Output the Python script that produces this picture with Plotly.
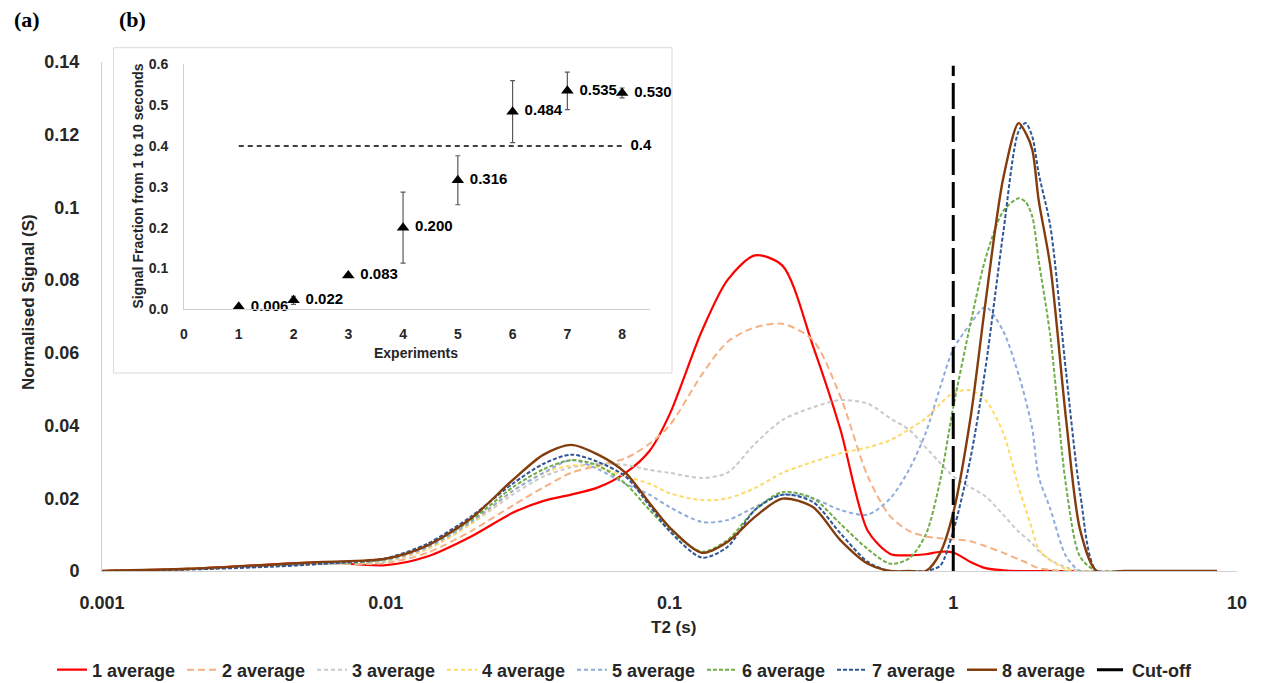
import plotly.graph_objects as go

# ---------------- main chart data ----------------
T2 = [0.001, 0.002, 0.004, 0.006, 0.01, 0.014, 0.02, 0.028, 0.036, 0.045, 0.056, 0.07,
      0.085, 0.1, 0.13, 0.16, 0.2, 0.25, 0.32, 0.4, 0.5, 0.6, 0.7, 0.8, 0.9, 1.0, 1.15,
      1.3, 1.5, 1.7, 1.8, 1.9, 2.0, 2.2, 2.5, 2.8, 3.2, 4.0, 8.5]

avg1 = [0, 0.0006, 0.0018, 0.0024, 0.0016, 0.004, 0.0095, 0.016, 0.0193, 0.021, 0.023, 0.027,
        0.033, 0.043, 0.066, 0.080, 0.0868, 0.084, 0.062, 0.039, 0.011, 0.0047, 0.0043, 0.0046,
        0.0053, 0.0051, 0.0025, 0.0008, 0.0002, 0, 0, 0, 0, 0, 0, 0, 0, 0, 0]
avg2 = [0, 0.0005, 0.0015, 0.002, 0.0022, 0.005, 0.011, 0.018, 0.023, 0.027, 0.029, 0.031,
        0.035, 0.040, 0.054, 0.063, 0.067, 0.068, 0.0635, 0.048, 0.026, 0.015, 0.011, 0.0095,
        0.009, 0.0087, 0.0082, 0.0068, 0.005, 0.0032, 0.0024, 0.0015, 0.0008, 0.0003, 0,
        0, 0, 0, 0]
avg3 = [0, 0.0005, 0.0015, 0.002, 0.0025, 0.006, 0.013, 0.021, 0.026, 0.0285, 0.0295, 0.0292,
        0.0278, 0.027, 0.0256, 0.027, 0.035, 0.0415, 0.045, 0.047, 0.046, 0.042, 0.0388, 0.034,
        0.0297, 0.026, 0.023, 0.0205, 0.0155, 0.0108, 0.0092, 0.0075, 0.0055, 0.003, 0.001,
        0, 0, 0, 0]
avg4 = [0, 0.0005, 0.0015, 0.002, 0.0028, 0.006, 0.013, 0.022, 0.027, 0.029, 0.0285, 0.026,
        0.024, 0.0214, 0.0195, 0.020, 0.0228, 0.027, 0.030, 0.0324, 0.034, 0.036, 0.039, 0.042,
        0.046, 0.049, 0.0497, 0.047, 0.038, 0.023, 0.017, 0.0113, 0.006, 0.003, 0.0005,
        0, 0, 0, 0]
avg5 = [0, 0.0005, 0.0015, 0.002, 0.003, 0.0065, 0.0135, 0.022, 0.027, 0.0305, 0.028, 0.024,
        0.021, 0.0176, 0.0135, 0.014, 0.0176, 0.021, 0.020, 0.0168, 0.0155, 0.020, 0.028, 0.038,
        0.0506, 0.061, 0.068, 0.0726, 0.066, 0.054, 0.047, 0.039, 0.026, 0.017, 0.004,
        0, 0, 0, 0]
avg6 = [0, 0.0005, 0.0015, 0.002, 0.0032, 0.007, 0.014, 0.023, 0.028, 0.0305, 0.029, 0.024,
        0.0168, 0.0113, 0.0053, 0.0085, 0.0168, 0.0217, 0.020, 0.013, 0.006, 0.002, 0.0035, 0.010,
        0.025, 0.045, 0.068, 0.086, 0.099, 0.1025, 0.1015, 0.0974, 0.0855, 0.0644, 0.0232,
        0.0039, 0, 0, 0]
avg7 = [0, 0.0004, 0.0012, 0.002, 0.0035, 0.0075, 0.015, 0.024, 0.0295, 0.032, 0.030, 0.026,
        0.018, 0.011, 0.0037, 0.0066, 0.0168, 0.021, 0.019, 0.0104, 0.0025, 0, 0, 0,
        0.0015, 0.011, 0.031, 0.056, 0.093, 0.121, 0.1232, 0.1194, 0.1094, 0.0947, 0.0544,
        0.0214, 0, 0, 0]
avg8 = [0, 0.0006, 0.0018, 0.0025, 0.0034, 0.007, 0.0145, 0.025, 0.032, 0.0347, 0.032, 0.027,
        0.0187, 0.012, 0.005, 0.008, 0.0149, 0.0199, 0.0176, 0.0085, 0.002, 0, 0, 0,
        0.005, 0.016, 0.042, 0.074, 0.108, 0.1232, 0.1205, 0.1158, 0.102, 0.0837, 0.0415,
        0.0113, 0, 0, 0]

series_names = ["1 average", "2 average", "3 average", "4 average",
                "5 average", "6 average", "7 average", "8 average"]
series_values = [avg1, avg2, avg3, avg4, avg5, avg6, avg7, avg8]
series_colors = ["#FF0000", "#F4B183", "#C9C9C9", "#FFD966",
                 "#8FAADC", "#70AD47", "#2F5597", "#843C0C"]
series_dash = ["solid", "7px,4px", "4px,3px", "4px,3px",
               "4px,3px", "4px,2px", "4px,2px", "solid"]
series_width = [2.2, 2, 2, 2, 2, 2, 2, 2.4]

cutoff_x = [1, 1]
cutoff_y = [0, 0.139]

x_tickvals = [0.001, 0.01, 0.1, 1, 10]
x_ticktext = ["0.001", "0.01", "0.1", "1", "10"]
y_tickvals = [0, 0.02, 0.04, 0.06, 0.08, 0.1, 0.12, 0.14]
y_ticktext = ["0", "0.02", "0.04", "0.06", "0.08", "0.1", "0.12", "0.14"]

# ---------------- inset (b) data ----------------
experiments = [1, 2, 3, 4, 5, 6, 7, 8]
fraction = [0.006, 0.022, 0.083, 0.200, 0.316, 0.484, 0.535, 0.530]
fraction_err = [0.003, 0.01, 0.004, 0.087, 0.06, 0.076, 0.046, 0.012]
fraction_labels = ["0.006", "0.022", "0.083", "0.200", "0.316", "0.484", "0.535", "0.530"]
threshold_x = [1, 8]
threshold_y = [0.4, 0.4]
threshold_labels = ["", "0.4"]
inset_xticks = [0, 1, 2, 3, 4, 5, 6, 7, 8]
inset_yticks = [0, 0.1, 0.2, 0.3, 0.4, 0.5, 0.6]
inset_yticktext = ["0.0", "0.1", "0.2", "0.3", "0.4", "0.5", "0.6"]

FONT = "Liberation Sans, Arial, sans-serif"
TXT = "#262626"

fig = go.Figure()

for name, vals, col, dash, w in zip(series_names, series_values, series_colors,
                                     series_dash, series_width):
    fig.add_trace(go.Scatter(
        x=T2, y=vals, name=name, mode="lines",
        line=dict(color=col, dash=dash, width=w, shape="spline", smoothing=0.8),
        xaxis="x", yaxis="y"))

fig.add_trace(go.Scatter(
    x=cutoff_x, y=cutoff_y, name="Cut-off", mode="lines",
    line=dict(color="#000000", dash="26px,7px", width=3),
    xaxis="x", yaxis="y"))

# inset traces
fig.add_trace(go.Scatter(
    x=threshold_x, y=threshold_y, mode="lines+text",
    text=["", "\u00a0\u00a0" + threshold_labels[1]],
    textposition="middle right",
    textfont=dict(family=FONT, size=15, color="#000000", weight="bold"),
    line=dict(color="#000000", dash="5px,4px", width=1.6),
    showlegend=False, xaxis="x2", yaxis="y2", cliponaxis=False))

fig.add_trace(go.Scatter(
    x=experiments, y=fraction, mode="markers+text",
    text=["\u00a0" + t for t in fraction_labels],
    textposition="middle right",
    textfont=dict(family=FONT, size=15, color="#000000", weight="bold"),
    marker=dict(symbol="triangle-up", size=11, color="#000000"),
    error_y=dict(type="data", array=fraction_err, color="#595959", thickness=1.2, width=2.5),
    showlegend=False, xaxis="x2", yaxis="y2", cliponaxis=False))

W, H = 1264, 683
ML, MR, MT, MB = 102, 27, 62, 112
PW = W - ML - MR
PH = H - MT - MB


def px_x(p):
    return (p - ML) / PW


def px_y(p):
    return (H - MB - p) / PH


def note(text, x, y, size, angle=0, family=FONT, color=TXT):
    return dict(text=text, xref="paper", yref="paper", x=px_x(x), y=px_y(y),
                xanchor="center", yanchor="middle", textangle=angle, showarrow=False,
                font=dict(family=family, size=size, color=color, weight="bold"))


fig.update_layout(
    width=W, height=H,
    margin=dict(l=ML, r=MR, t=MT, b=MB, autoexpand=False),
    paper_bgcolor="white", plot_bgcolor="white",
    font=dict(family=FONT, color=TXT),
    xaxis=dict(type="log", range=[-3, 1], tickvals=x_tickvals, ticktext=x_ticktext,
               showgrid=False, zeroline=False, showline=True, linecolor="#D0D0D0",
               ticks="", ticklabelstandoff=15,
               tickfont=dict(family=FONT, size=18, color=TXT, weight="bold")),
    yaxis=dict(range=[0, 0.14], tickvals=y_tickvals, ticktext=y_ticktext,
               showgrid=False, zeroline=False, showline=True, linecolor="#D0D0D0",
               ticks="", ticklabelstandoff=18,
               tickfont=dict(family=FONT, size=18, color=TXT, weight="bold")),
    xaxis2=dict(domain=[px_x(184), px_x(649.5)], range=[0, 8.5], anchor="y2",
                tickvals=inset_xticks, showgrid=False, zeroline=False, showline=True,
                linecolor="#D0D0D0", ticks="", ticklabelstandoff=12,
                tickfont=dict(family=FONT, size=14, color=TXT, weight="bold")),
    yaxis2=dict(domain=[px_y(309.3), px_y(64.3)], range=[0, 0.6], anchor="x2",
                tickvals=inset_yticks, ticktext=inset_yticktext, showgrid=False,
                zeroline=False, showline=True, linecolor="#D0D0D0", ticks="",
                ticklabelstandoff=12,
                tickfont=dict(family=FONT, size=14, color=TXT, weight="bold")),
    legend=dict(orientation="h", xref="paper", yref="paper",
                x=px_x(52), xanchor="left", y=px_y(670), yanchor="middle",
                entrywidth=85, entrywidthmode="pixels", traceorder="normal",
                font=dict(family=FONT, size=18, color=TXT, weight="bold"),
                bgcolor="rgba(0,0,0,0)"),
    shapes=[dict(type="rect", xref="paper", yref="paper",
                 x0=px_x(113.6), x1=px_x(672), y0=px_y(373), y1=px_y(47.7),
                 fillcolor="white", line=dict(color="#D9D9D9", width=1), layer="below")],
    annotations=[
        note("Normalised Signal (S)", 28, 302, 17, angle=-90),
        note("T2 (s)", 673, 627, 17),
        note("Signal Fraction from 1 to 10 seconds", 137, 186.5, 14, angle=-90),
        note("Experiments", 416, 353, 14),
        note("(a)", 27, 20, 22, family="Liberation Serif, Times New Roman, serif", color="#000000"),
        note("(b)", 132, 20, 22, family="Liberation Serif, Times New Roman, serif", color="#000000"),
    ],
)

fig.write_html("out.html", config={"displayModeBar": False},
               post_script="document.body.style.margin='0';document.body.style.overflow='hidden';")
